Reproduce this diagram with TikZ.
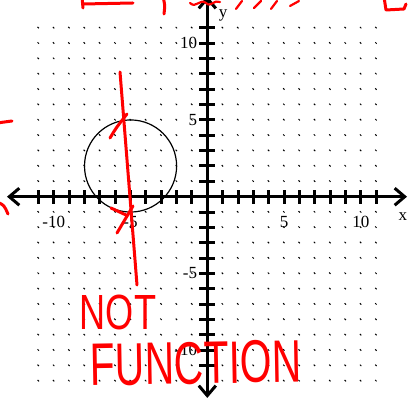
\documentclass[tikz,border=0pt]{standalone}
\usepackage{fontspec}
\setmainfont{Liberation Serif}
\newfontfamily\handfont{Liberation Sans}
\usepackage{graphicx}
\usetikzlibrary{arrows.meta}

\begin{document}
\begin{tikzpicture}[
    x=15.35pt, y=15.35pt,
    axisline/.style={line width=3pt,
                     {Straight Barb[length=10pt,width=17pt]}-{Straight Barb[length=10pt,width=17pt]}},
    axtick/.style={line width=3pt},
    griddot/.style={line width=1pt},
    numlab/.style={font=\fontsize{17}{19}\selectfont, inner sep=0pt},
    ink/.style={red, line width=3pt, line cap=round, line join=round},
    inktext/.style={red, inner sep=0pt, font=\handfont}
]
\useasboundingbox (-13.505,-13.375) rectangle (13.661,12.814);
\clip (-13.505,-13.375) rectangle (13.661,12.814);

% dotted grid
\foreach \i in {-11,...,11}
  \foreach \j in {-12,...,11}
    \draw[griddot] (\i-0.06,\j+0.06) -- (\i+0.03,\j-0.03);

% circle
\draw[line width=1.2pt] (-5,2) circle (3);

% axes
\coordinate (xmin) at (-13.05,0);
\coordinate (xmax) at (13.01,0);
\coordinate (ymin) at (0,-13.11);
\coordinate (ymax) at (0,13.07);
\draw[axisline] (xmin) -- (xmax);
\draw[axisline] (ymin) -- (ymax);
\foreach \k in {-11,...,-1,1,2,...,11} {
  \draw[axtick] (\k,-0.46) -- (\k,0.46);
  \draw[axtick] (-0.52,\k) -- (0.52,\k);
}

% numbers
\foreach \v in {-10,-5,5,10} {
  \node[numlab] (xl\v) at (\v,-1.65) {\v};
  \node[numlab, anchor=east] (yl\v) at (-0.65,\v) {\v};
}
\node[numlab] (xname) at (12.74,-1.32) {x};
\node[numlab] (yname) at (1.03,11.84) {y};

% red ink, in pixel units
\begin{scope}[x=1pt, y=-1pt, shift={(-207.3,-196.7)}]
  \coordinate (lt) at (120,72);
  \coordinate (lb) at (137,285);
  \draw[ink] (lt) -- (lb);
  \draw[ink] (110,138) .. controls (116,128) .. (127,114);
  \draw[ink] (117,233) .. controls (125,220) .. (133,206);
  \draw[ink] (111,208) -- (126,215);
  % scribbles cut off at the edges
  \draw[ink] (82,-3) -- (83,8);
  \draw[ink] (83,4) -- (133,3);
  \draw[ink] (163,-3) .. controls (165,5) .. (164,14);
  \draw[ink, line width=2.2pt] (190,3) .. controls (196,9) and (200,-2) .. (206,3)
             .. controls (211,8) and (214,-1) .. (220,2);
  \draw[ink, line width=2.2pt] (236,9) -- (242,1);
  \draw[ink, line width=2.2pt] (254,8) -- (261,1);
  \draw[ink, line width=2.2pt] (271,9) -- (277,1);
  \draw[ink, line width=2.2pt] (290,6) -- (299,1);
  \draw[ink] (384,-3) -- (386,10) -- (404,9) -- (406,4);
  \draw[ink] (-3,123) -- (12,121);
  \draw[ink] (-3,202) .. controls (4,205) .. (8,214);
  % words
  \node[inktext] (nottxt) at (118,312)
    {\scalebox{0.95}[1.3]{\fontsize{38}{40}\selectfont NOT}};
  \node[inktext, rotate=1] (funtxt) at (196,363)
    {\scalebox{1.02}[1.5]{\fontsize{40}{42}\selectfont FUNCTION}};
\end{scope}
\end{tikzpicture}
\end{document}
